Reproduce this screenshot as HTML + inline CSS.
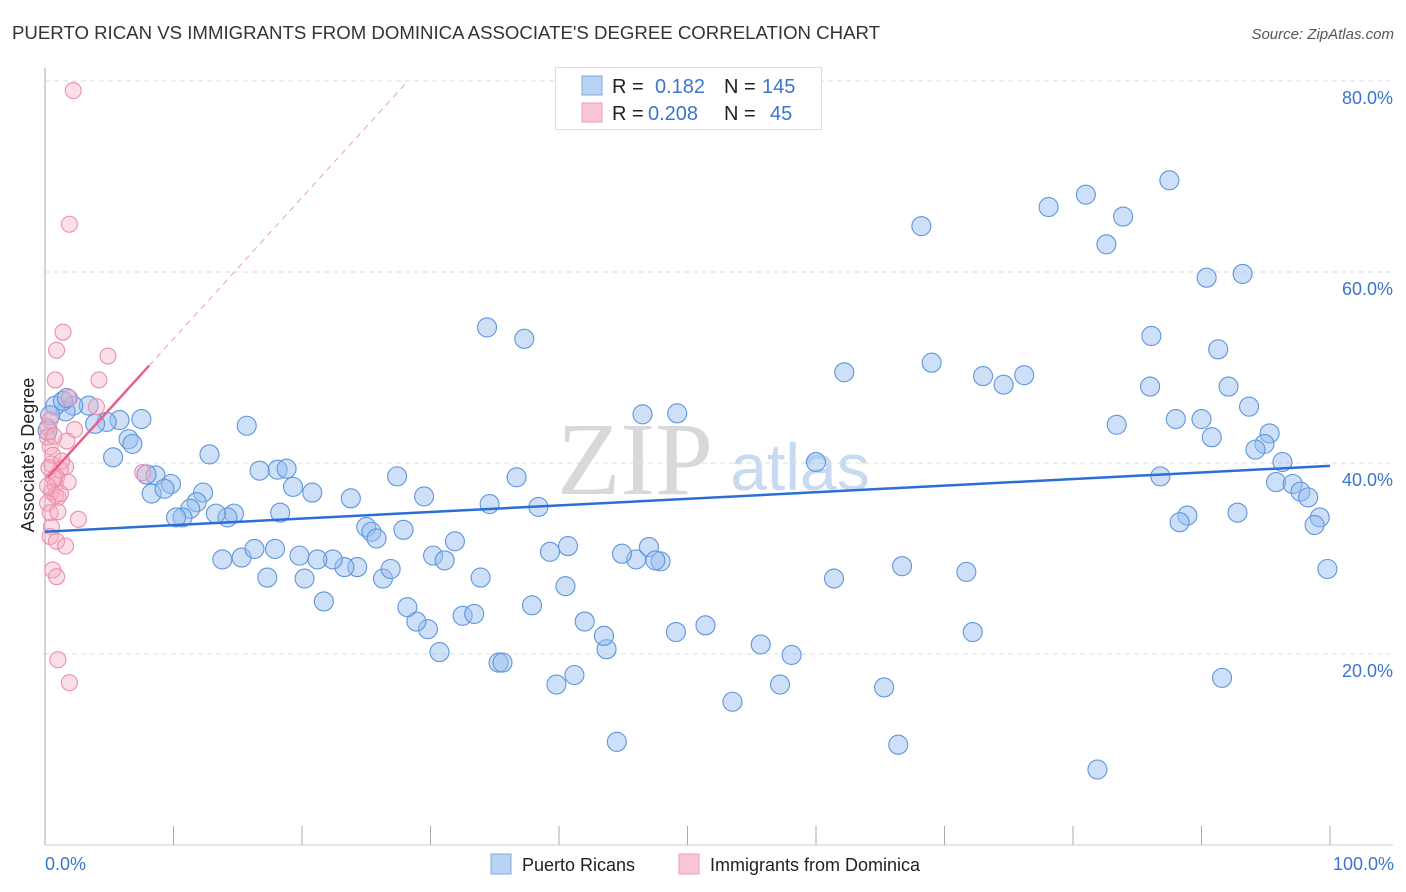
<!DOCTYPE html>
<html><head><meta charset="utf-8"><style>
body{margin:0;background:#fff;font-family:"Liberation Sans",sans-serif;}
svg{display:block}
</style></head><body>
<svg id="chart" width="1406" height="892">
<text x="12" y="39" font-size="18" fill="#333" textLength="868" lengthAdjust="spacingAndGlyphs">PUERTO RICAN VS IMMIGRANTS FROM DOMINICA ASSOCIATE'S DEGREE CORRELATION CHART</text>
<text x="1394" y="39" font-size="15" fill="#555" font-style="italic" text-anchor="end">Source: ZipAtlas.com</text>
<text x="635" y="494" font-size="104" fill="#d8d8d8" font-family="Liberation Serif,serif" text-anchor="middle">ZIP</text>
<text x="800" y="490" font-size="66" fill="#c8daf2" text-anchor="middle">atlas</text>
<g id="grid"></g>
<g id="marks"></g>
<text transform="translate(34,455) rotate(-90)" font-size="18" fill="#222" text-anchor="middle">Associate's Degree</text>
<text x="45" y="870" font-size="18" fill="#3b75d0">0.0%</text>
<text x="1394" y="870" font-size="18" fill="#3b75d0" text-anchor="end">100.0%</text>
<g>
<rect x="555.5" y="67.5" width="266" height="62" fill="#fff" stroke="#ddd"/>
<rect x="582" y="76" width="20" height="19" fill="#b9d3f5" stroke="#7fa8e0"/>
<rect x="582" y="103" width="20" height="19" fill="#f9c6d4" stroke="#eb9cb4"/>
<text x="612" y="93" font-size="20" fill="#222">R =</text><text x="655" y="93" font-size="20" fill="#3b75d0">0.182</text>
<text x="724" y="93" font-size="20" fill="#222">N =</text><text x="762" y="93" font-size="20" fill="#3b75d0">145</text>
<text x="612" y="120" font-size="20" fill="#222">R =</text><text x="648" y="120" font-size="20" fill="#3b75d0">0.208</text>
<text x="724" y="120" font-size="20" fill="#222">N =</text><text x="770" y="120" font-size="20" fill="#3b75d0">45</text>
</g>
<g>
<rect x="491" y="854" width="20" height="20" fill="#b9d3f5" stroke="#7fa8e0"/>
<text x="522" y="871" font-size="18" fill="#222">Puerto Ricans</text>
<rect x="679" y="854" width="20" height="20" fill="#f9c6d4" stroke="#eb9cb4"/>
<text x="710" y="871" font-size="18" fill="#222">Immigrants from Dominica</text>
</g>
</svg>
<script>
const yTicks=[20,40,60,80];
const xTickVals=[0,10,20,30,40,50,60,70,80,90,100];
const blueX=[34.4,37.3,68.2,78.1,81.0,83.9,87.5,82.6,90.4,93.2,86.1,91.3,62.2,69.0,73.0,74.6,76.2,86.0,92.1,93.7,83.4,88.0,90.0,90.8,95.3,94.9,94.2,96.3,46.5,49.2,60.0,86.8,95.8,97.1,97.7,98.3,99.2,98.8,92.8,88.9,88.3,99.8,91.6,81.9,66.4,65.3,66.7,71.7,72.2,61.4,58.1,55.7,57.2,53.5,51.4,49.1,44.5,41.2,39.8,43.7,43.5,42.0,37.9,40.5,40.7,39.3,46.0,44.9,47.0,47.9,47.5,35.3,35.6,30.7,32.5,33.4,29.8,28.9,28.2,26.3,26.9,27.9,25.0,25.4,25.8,24.3,23.3,22.4,21.2,20.2,19.8,21.7,17.3,15.3,16.3,17.9,13.8,18.1,18.8,16.7,19.3,20.8,23.8,27.4,29.5,34.6,36.7,38.4,31.9,30.2,31.1,33.9,18.3,14.7,14.2,13.3,12.3,11.8,11.3,10.7,10.2,9.8,8.6,8.3,9.3,6.5,6.8,5.3,12.8,15.7,7.5,5.8,4.8,3.9,3.4,2.2,1.6,0.8,0.4,0.2,1.4,1.7,7.9];
const blueY=[54.2,53.0,64.8,66.8,68.1,65.8,69.6,62.9,59.4,59.8,53.3,51.9,49.5,50.5,49.1,48.2,49.2,48.0,48.0,45.9,44.0,44.6,44.6,42.7,43.1,42.0,41.4,40.1,45.1,45.2,40.1,38.6,38.0,37.8,37.0,36.4,34.3,33.5,34.8,34.5,33.8,28.9,17.5,7.9,10.5,16.5,29.2,28.6,22.3,27.9,19.9,21.0,16.8,15.0,23.0,22.3,10.8,17.8,16.8,20.5,21.9,23.4,25.1,27.1,31.3,30.7,29.9,30.5,31.2,29.7,29.8,19.1,19.1,20.2,24.0,24.2,22.6,23.4,24.9,27.9,28.9,33.0,33.3,32.8,32.1,29.1,29.1,29.9,29.9,27.9,30.3,25.5,28.0,30.1,31.0,31.0,29.9,39.3,39.4,39.2,37.5,36.9,36.3,38.6,36.5,35.7,38.5,35.4,31.8,30.3,29.8,28.0,34.8,34.7,34.3,34.7,36.9,35.9,35.2,34.3,34.3,37.8,38.7,36.8,37.3,42.5,42.0,40.6,40.9,43.9,44.6,44.5,44.3,44.1,46.0,46.0,45.4,46.0,45.0,43.4,46.5,46.8,38.8];
const pinkX=[2.2,1.9,1.4,0.9,4.9,4.2,0.8,1.9,4.0,0.4,0.2,0.2,0.4,0.5,1.6,1.2,0.9,0.8,1.8,0.5,0.8,1.0,0.2,0.4,1.0,2.6,0.5,0.4,0.9,1.6,0.6,0.9,1.0,1.9,7.6,2.3,1.7,0.7,0.6,1.3,0.3,0.7,1.2,0.2];
const pinkY=[79.0,65.0,53.7,51.8,51.2,48.7,48.7,46.8,45.9,44.5,43.8,42.7,41.7,39.9,39.6,39.3,38.5,37.7,38.0,37.0,36.6,36.4,35.8,34.8,34.9,34.1,33.3,32.3,31.8,31.3,28.8,28.1,19.4,17.0,39.0,43.5,42.3,42.8,40.8,40.2,39.5,38.4,36.8,37.6];
const blueFit=[32.8,0.069];
const pinkFit=[38.2,1.48];
const pinkSolidEnd=8.1;

const sx=v=>45+v*12.85;
const sy=v=>845-v*9.55;
const NS="http://www.w3.org/2000/svg";
const grid=document.getElementById('grid'), marks=document.getElementById('marks');
function mk(tag,attrs,parent){const e=document.createElementNS(NS,tag);for(const k in attrs)e.setAttribute(k,attrs[k]);parent.appendChild(e);return e;}
yTicks.forEach(t=>{
  const l=mk('line',{x1:45,x2:1393,y1:sy(t),y2:sy(t),stroke:'#ddd','stroke-dasharray':'5,4'},grid);
  
  
  const tx=mk('text',{x:1393,y:sy(t)+23,'font-size':18,fill:'#3b75d0','text-anchor':'end'},grid);
  tx.textContent=t.toFixed(1)+'%';
  
  
});
const ax=mk('line',{x1:45,x2:45,y1:68,y2:845,stroke:'#aaa'},grid);


const bx=mk('line',{x1:45,x2:1393,y1:845,y2:845,stroke:'#ccc'},grid);


xTickVals.forEach(t=>{
  const l=mk('line',{x1:sx(t),x2:sx(t),y1:826,y2:845,stroke:'#aaa'},grid);
  
  
});
blueX.forEach((x,i)=>{
  const c=mk('circle',{cx:sx(x),cy:sy(blueY[i]),r:9.5,fill:'rgba(150,190,240,0.48)',stroke:'#5f95dc','stroke-width':1.1},marks);
  
  
});
pinkX.forEach((x,i)=>{
  const c=mk('circle',{cx:sx(x),cy:sy(pinkY[i]),r:8,fill:'rgba(245,170,192,0.38)',stroke:'#ec8fab','stroke-width':1.1},marks);
  
  
});
const bl=mk('line',{x1:sx(0),y1:sy(blueFit[0]),x2:sx(100),y2:sy(blueFit[0]+100*blueFit[1]),stroke:'#2a6fd6','stroke-width':2.5},marks);


const xEnd=(80-pinkFit[0])/pinkFit[1];
const pd=mk('line',{x1:sx(pinkSolidEnd),y1:sy(pinkFit[0]+pinkSolidEnd*pinkFit[1]),x2:sx(xEnd),y2:sy(80),stroke:'#eaa0b6','stroke-width':1,'stroke-dasharray':'6,5'},marks);


const pl=mk('line',{x1:sx(0.2),y1:sy(pinkFit[0]+0.2*pinkFit[1]),x2:sx(pinkSolidEnd),y2:sy(pinkFit[0]+pinkSolidEnd*pinkFit[1]),stroke:'#e8608a','stroke-width':2.5},marks);


</script>
</body></html>
